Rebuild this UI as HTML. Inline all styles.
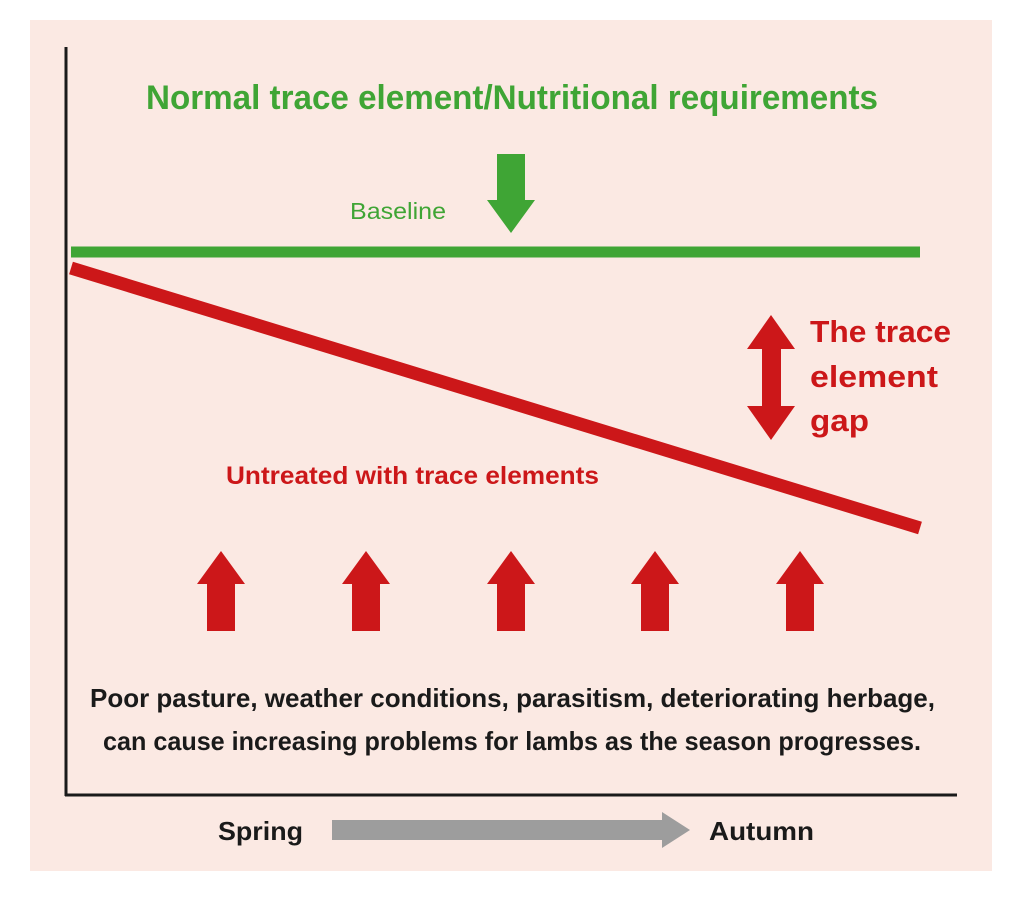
<!DOCTYPE html>
<html><head><meta charset="utf-8"><style>
html,body{margin:0;padding:0;background:#fff;}
svg{display:block;}
text{font-family:"Liberation Sans",sans-serif;font-weight:bold;}
</style></head><body>
<svg width="1024" height="903" viewBox="0 0 1024 903" xmlns="http://www.w3.org/2000/svg">
<rect x="30" y="20" width="962" height="851" fill="#fbe9e3"/>
<line x1="66" y1="47" x2="66" y2="796" stroke="#1a1a1a" stroke-width="3"/>
<line x1="65" y1="795" x2="957" y2="795" stroke="#1a1a1a" stroke-width="3"/>
<text x="146" y="109" font-size="34" fill="#3fa535" textLength="732" lengthAdjust="spacingAndGlyphs">Normal trace element/Nutritional requirements</text>
<text x="350" y="219" font-size="23" style="font-weight:normal" fill="#3fa535" textLength="96" lengthAdjust="spacingAndGlyphs">Baseline</text>
<polygon points="497,154 525,154 525,200 535,200 511,233 487,200 497,200" fill="#3fa535"/>
<line x1="71" y1="252" x2="920" y2="252" stroke="#3fa535" stroke-width="11"/>
<line x1="71" y1="268" x2="920" y2="528" stroke="#cc1719" stroke-width="13"/>
<polygon points="771,315 795,349 781,349 781,406 795,406 771,440 747,406 762,406 762,349 747,349" fill="#cc1719"/>
<text x="810" y="342" font-size="31" fill="#cc1719" textLength="141" lengthAdjust="spacingAndGlyphs">The trace</text>
<text x="810" y="387" font-size="31" fill="#cc1719" textLength="128" lengthAdjust="spacingAndGlyphs">element</text>
<text x="810" y="431" font-size="31" fill="#cc1719" textLength="59" lengthAdjust="spacingAndGlyphs">gap</text>
<text x="226" y="484" font-size="25" fill="#cc1719" textLength="373" lengthAdjust="spacingAndGlyphs">Untreated with trace elements</text>
<g fill="#cc1719">
<polygon points="221,551 245,584 235,584 235,631 207,631 207,584 197,584"/>
<polygon points="366,551 390,584 380,584 380,631 352,631 352,584 342,584"/>
<polygon points="511,551 535,584 525,584 525,631 497,631 497,584 487,584"/>
<polygon points="655,551 679,584 669,584 669,631 641,631 641,584 631,584"/>
<polygon points="800,551 824,584 814,584 814,631 786,631 786,584 776,584"/>
</g>
<text x="90" y="707" font-size="26" fill="#1a1a1a" textLength="845" lengthAdjust="spacingAndGlyphs">Poor pasture, weather conditions, parasitism, deteriorating herbage,</text>
<text x="103" y="750" font-size="26" fill="#1a1a1a" textLength="818" lengthAdjust="spacingAndGlyphs">can cause increasing problems for lambs as the season progresses.</text>
<text x="218" y="840" font-size="26" fill="#1a1a1a" textLength="85" lengthAdjust="spacingAndGlyphs">Spring</text>
<polygon points="332,820 662,820 662,812 690,830 662,848 662,840 332,840" fill="#9d9d9d"/>
<text x="709" y="840" font-size="26" fill="#1a1a1a" textLength="105" lengthAdjust="spacingAndGlyphs">Autumn</text>
</svg>
</body></html>
